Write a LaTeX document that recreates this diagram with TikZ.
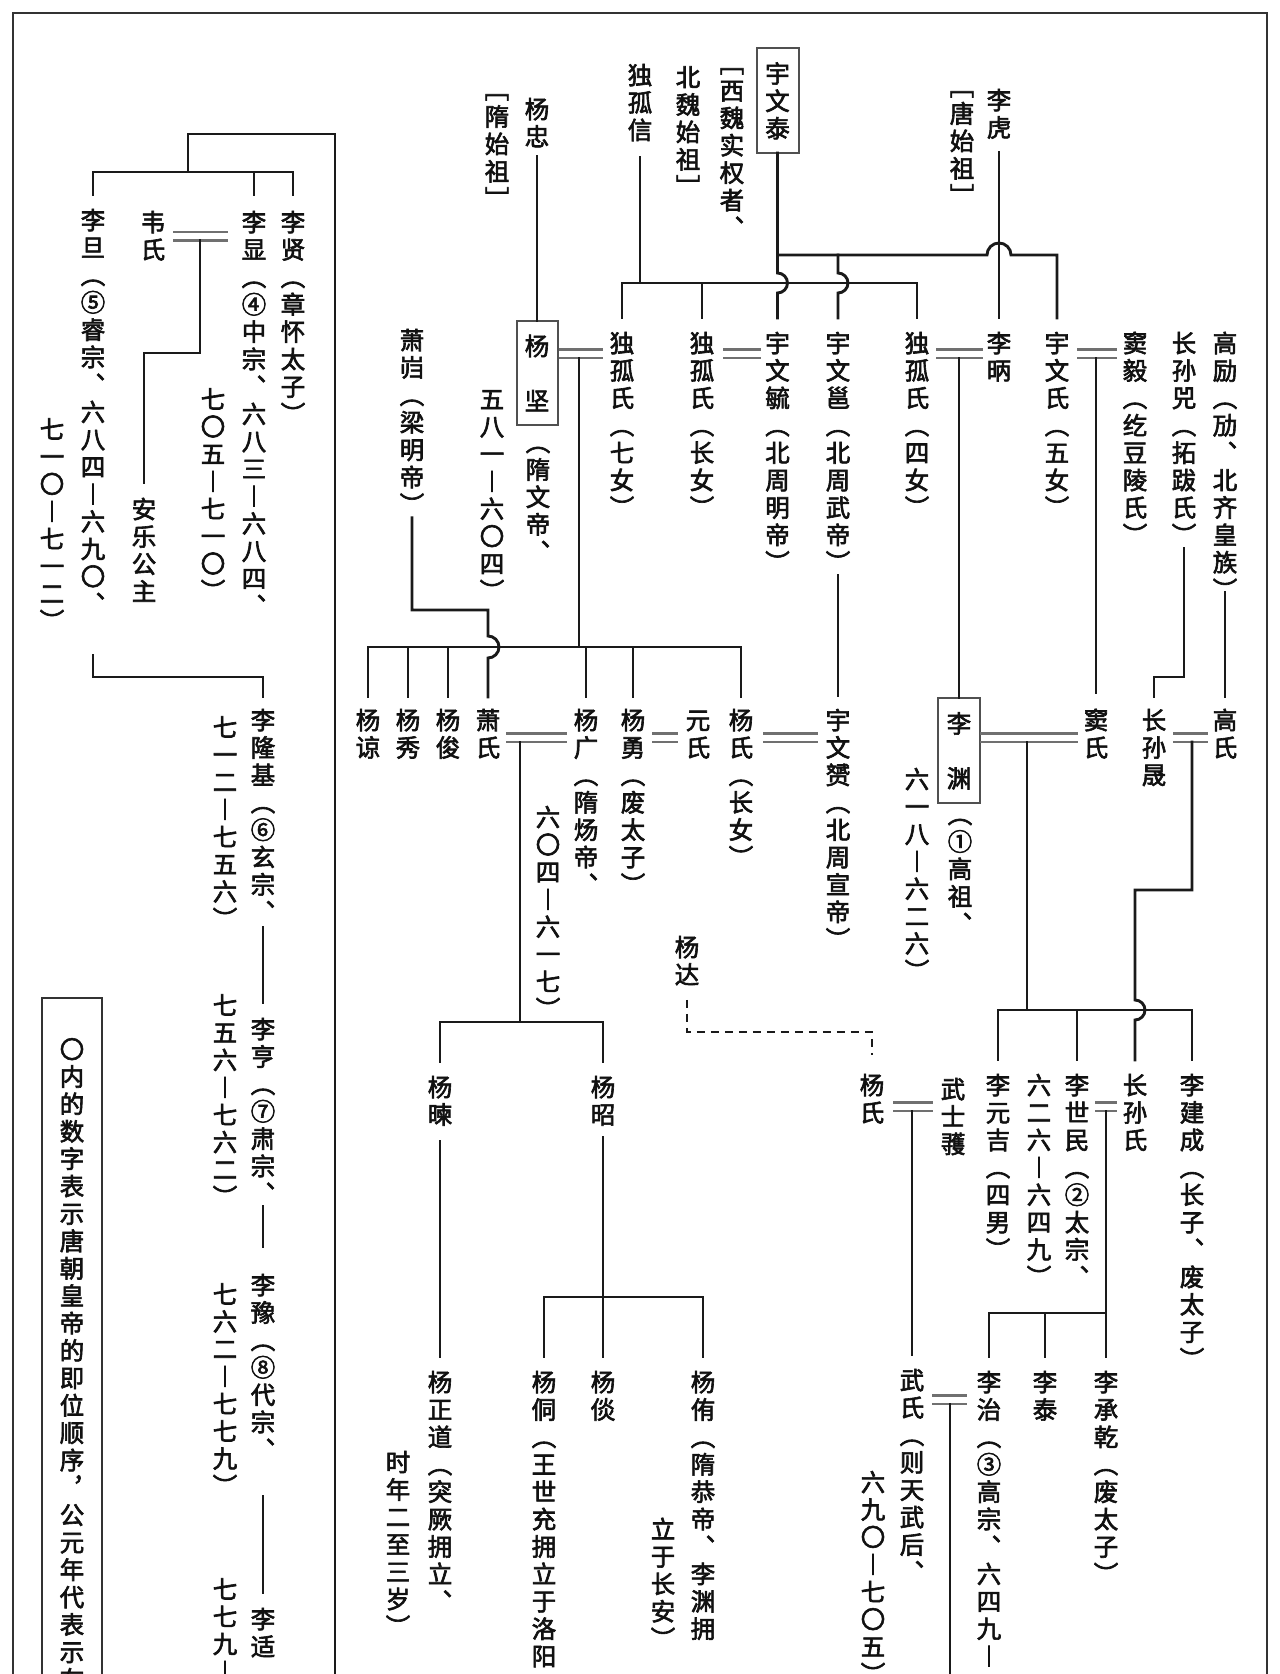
\documentclass[tikz,border=0pt]{standalone}
\usepackage{fontspec}
\setmainfont{Noto Sans CJK SC}[FakeBold=2.5]
\definecolor{linec}{HTML}{1A1A1A}
\definecolor{dblc}{HTML}{707070}
\definecolor{boxc}{HTML}{505050}
\definecolor{frmc}{HTML}{333333}
\definecolor{txtc}{HTML}{111111}
\def\vtstop{vtstop}
\def\vsp{}
\newcommand\vtcell[1]{\hbox to 30pt{\hss\vrule width 0pt height 23.4pt depth 4pt\relax#1\hss}}
\def\vtloop#1{\ifx\vtstop#1\else\vtcell{#1}\expandafter\vtloop\fi}
\newcommand\vt[1]{\vbox{\offinterlineskip\vtloop#1\vtstop}}
\newcommand\wed[5]{%
  \draw[dbl,shorten <=#4pt,shorten >=#5pt] (#1.east|-0,#3) -- (#2.west|-0,#3);
  \draw[dbl,shorten <=#4pt,shorten >=#5pt] (#1.east|-0,#3+8.5) -- (#2.west|-0,#3+8.5);}
\tikzset{
  ln/.style={draw=linec,line width=2.9pt,line cap=rect},
  dbl/.style={draw=dblc,line width=2.7pt},
  dsh/.style={draw=linec,line width=2.9pt,dash pattern=on 8pt off 6pt},
  vtx/.style={inner sep=0pt,outer sep=0pt,anchor=north,text=txtc,font=\fontsize{24.5pt}{27.4pt}\selectfont},
  bx/.style={draw=boxc,line width=2pt,inner sep=0pt,outer sep=0pt,minimum width=42pt,minimum height=105pt,text=txtc,font=\fontsize{24.5pt}{27.4pt}\selectfont},
  frm/.style={draw=frmc,line width=2.2pt},
}
\begin{document}
\begin{tikzpicture}[x=1pt,y=-1pt]
\useasboundingbox (0,0) rectangle (1280,1674);
\fill[white] (0,0) rectangle (1280,1674);
% frames
\draw[frm] (13,1700) -- (13,13) -- (1267,13) -- (1267,1700);
\draw[frm] (42,1700) -- (42,998) -- (102,998) -- (102,1700);
% ---------- left part ----------
\node[vtx] (ldan) at (93,206) {\vt{李旦︵⑤睿宗︑六八四︱六九〇︑}};
\node[vtx] (ldanb) at (52,415) {\vt{七一〇︱七一二︶}};
\node[vtx] (weishi) at (153,208) {\vt{韦氏}};
\node[vtx] (lxian) at (254,208) {\vt{李显︵④中宗︑六八三︱六八四︑}};
\node[vtx] (lxianb) at (213,385) {\vt{七〇五︱七一〇︶}};
\node[vtx] (lxianz) at (293,208) {\vt{李贤︵章怀太子︶}};
\node[vtx] (anle) at (144,495) {\vt{安乐公主}};
\node[vtx] (llj) at (263,706) {\vt{李隆基︵⑥玄宗︑}};
\node[vtx] (lljb) at (225,713) {\vt{七一二︱七五六︶}};
\node[vtx] (lheng) at (263,1015) {\vt{李亨︵⑦肃宗︑}};
\node[vtx] (lhengb) at (225,991) {\vt{七五六︱七六二︶}};
\node[vtx] (lyu) at (263,1271) {\vt{李豫︵⑧代宗︑}};
\node[vtx] (lyub) at (225,1280) {\vt{七六二︱七七九︶}};
\node[vtx] (lkuo) at (263,1605) {\vt{李适︵}};
\node[vtx] (lkuob) at (225,1575) {\vt{七七九︱}};
\node[vtx] (legend) at (72,1035) {\vt{〇内的数字表示唐朝皇帝的即位顺序︐公元年代表示在}};
% ---------- right part, top ----------
\node[vtx] (yzhong) at (537,95) {\vt{杨忠}};
\node[vtx] (suisz) at (497,75) {\vt{﹇隋始祖﹈}};
\node[vtx] (dugu) at (640,61) {\vt{独孤信}};
\node[bx] (ywt) at (777.5,100.5) {\vt{宇文泰}};
\node[vtx] (xiwei) at (732,49) {\vt{﹇西魏实权者︑}};
\node[vtx] (beiwei) at (688,63) {\vt{北魏始祖﹈}};
\node[vtx] (lihu) at (999,86) {\vt{李虎}};
\node[vtx] (tangsz) at (962,72) {\vt{﹇唐始祖﹈}};
% row 2
\node[bx,minimum width=41pt,minimum height=104pt] (yangjian) at (537,373) {\vt{杨\vsp 坚}};
\node[vtx] (suiwd) at (538,428) {\vt{︵隋文帝︑}};
\node[vtx] (yjdate) at (492,385) {\vt{五八一︱六〇四︶}};
\node[vtx] (dgs7) at (622,329) {\vt{独孤氏︵七女︶}};
\node[vtx] (dgs1) at (702,329) {\vt{独孤氏︵长女︶}};
\node[vtx] (ywyu) at (777.5,329) {\vt{宇文毓︵北周明帝︶}};
\node[vtx] (ywyong) at (838,329) {\vt{宇文邕︵北周武帝︶}};
\node[vtx] (dgs4) at (917,329) {\vt{独孤氏︵四女︶}};
\node[vtx] (libing) at (999,329) {\vt{李昞}};
\node[vtx] (ywshi) at (1057,329) {\vt{宇文氏︵五女︶}};
\node[vtx] (douyi) at (1135,329) {\vt{窦毅︵纥豆陵氏︶}};
\node[vtx] (zsx) at (1184,329) {\vt{长孙兕︵拓跋氏︶}};
\node[vtx] (gaoli) at (1225,329) {\vt{高励︵劢︑北齐皇族︶}};
\node[vtx] (xiaokui) at (412,326) {\vt{萧岿︵梁明帝︶}};
% row 3
\node[vtx] (yliang) at (368,706) {\vt{杨谅}};
\node[vtx] (yxiu) at (408,706) {\vt{杨秀}};
\node[vtx] (yjun) at (448,706) {\vt{杨俊}};
\node[vtx] (xiaoshi) at (488,706) {\vt{萧氏}};
\node[vtx] (yguang) at (586,706) {\vt{杨广︵隋炀帝︑}};
\node[vtx] (ygdate) at (548,803) {\vt{六〇四︱六一七︶}};
\node[vtx] (yyong) at (633,706) {\vt{杨勇︵废太子︶}};
\node[vtx] (yuanshi) at (698,706) {\vt{元氏}};
\node[vtx] (yshi1) at (741,706) {\vt{杨氏︵长女︶}};
\node[vtx] (ywyun) at (838,706) {\vt{宇文赟︵北周宣帝︶}};
\node[bx] (liyuan) at (959,750.5) {\vt{李\vsp 渊}};
\node[vtx] (gaozu) at (960,800) {\vt{︵①高祖︑}};
\node[vtx] (lydate) at (917,765) {\vt{六一八︱六二六︶}};
\node[vtx] (doushi) at (1096,706) {\vt{窦氏}};
\node[vtx] (zssheng) at (1154,706) {\vt{长孙晟}};
\node[vtx] (gaoshi) at (1225,706) {\vt{高氏}};
% row 4
\node[vtx] (yangda) at (687,933) {\vt{杨达}};
\node[vtx] (yshi2) at (872,1071) {\vt{杨氏}};
\node[vtx] (wsh) at (953,1075) {\vt{武士彟}};
\node[vtx] (lyj) at (998,1071) {\vt{李元吉︵四男︶}};
\node[vtx] (lsmdate) at (1039,1071) {\vt{六二六︱六四九︶}};
\node[vtx] (lsm) at (1077,1071) {\vt{李世民︵②太宗︑}};
\node[vtx] (zssshi) at (1135,1071) {\vt{长孙氏}};
\node[vtx] (ljc) at (1192,1071) {\vt{李建成︵长子︑废太子︶}};
\node[vtx] (yjian) at (440,1073) {\vt{杨暕}};
\node[vtx] (yzhao) at (603,1073) {\vt{杨昭}};
% row 5
\node[vtx] (yzd) at (440,1368) {\vt{杨正道︵突厥拥立︑}};
\node[vtx] (yzdb) at (398,1448) {\vt{时年二至三岁︶}};
\node[vtx] (ytong) at (544,1368) {\vt{杨侗︵王世充拥立于洛阳}};
\node[vtx] (ytan) at (603,1368) {\vt{杨倓}};
\node[vtx] (yyou) at (703,1368) {\vt{杨侑︵隋恭帝︑李渊拥}};
\node[vtx] (yyoub) at (663,1515) {\vt{立于长安︶}};
\node[vtx] (wushi) at (912,1366) {\vt{武氏︵则天武后︑}};
\node[vtx] (wsdate) at (873,1468) {\vt{六九〇︱七〇五︶}};
\node[vtx] (lizhi) at (989,1368) {\vt{李治︵③高宗︑六四九︱}};
\node[vtx] (litai) at (1045,1368) {\vt{李泰}};
\node[vtx] (lcq) at (1106,1368) {\vt{李承乾︵废太子︶}};
% ---------- connectors, left ----------
\coordinate (lbar) at (188,172);
\draw[ln] (ldan.north|-lbar) -- (lxianz.north|-lbar);
\draw[ln,shorten >=11pt] (ldan.north|-lbar) -- (ldan.north);
\draw[ln,shorten >=13pt] (lxian.north|-lbar) -- (lxian.north);
\draw[ln,shorten >=13pt] (lxianz.north|-lbar) -- (lxianz.north);
\draw[ln] (lbar) -- (188,134) -- (335,134) -- (335,1700);
\wed{weishi}{lxian}{232}{5}{11}
\draw[ln,shorten >=12pt] (200,240.5) -- (200,353) -- (anle.north|-0,353) -- (anle.north);
\draw[ln,shorten >=9pt] (ldan.south|-0,655) -- (93,677) -- (llj.north|-0,677) -- (llj.north);
\draw[ln,shorten <=2pt,shorten >=12pt] (llj.south) -- (lheng.north);
\draw[ln,shorten >=24pt] (lheng.south) -- (lyu.north);
\draw[ln,shorten <=34pt,shorten >=12pt] (lyu.south) -- (lkuo.north);
% ---------- connectors, right ----------
\draw[ln,shorten <=7pt] (yzhong.south) -- (yangjian.north);
\coordinate (dgbar) at (640,283);
\draw[ln,shorten <=14pt] (dugu.south) -- (dgbar);
\draw[ln] (dgs7.north|-dgbar) -- (dgs4.north|-dgbar);
\foreach \n in {dgs7,dgs1,dgs4} \draw[ln,shorten >=11pt] (\n.north|-dgbar) -- (\n.north);
\coordinate (ywbar) at (777.5,255);
\draw[ln,shorten >=11pt] (ywt.south) -- (777.5,273) arc[start angle=90,end angle=-90,radius=10pt] -- (ywyu.north);
\draw[ln,shorten >=11pt] (ywbar) -- (987,255) arc[start angle=180,end angle=0,radius=12pt] -- (ywshi.north|-ywbar) -- (ywshi.north);
\draw[ln,shorten >=11pt] (ywyong.north|-ywbar) -- (838,273) arc[start angle=90,end angle=-90,radius=10pt] -- (ywyong.north);
\draw[ln,shorten <=12pt,shorten >=11pt] (lihu.south) -- (libing.north);
\wed{yangjian}{dgs7}{349.5}{1}{4}
\wed{dgs1}{ywyu}{349.5}{6}{2}
\wed{dgs4}{libing}{349.5}{4}{1}
\wed{ywshi}{douyi}{349.5}{5}{3}
\coordinate (yjbar) at (579,647);
\draw[ln] (579,358) -- (yjbar);
\draw[ln] (959,358) -- (liyuan.north);
\draw[ln,shorten >=13pt] (1096,358) -- (doushi.north);
\draw[ln,shorten >=9pt] (xiaokui.south) -- (412,610) -- (488,610) -- (488,636) arc[start angle=90,end angle=-90,radius=11pt] -- (xiaoshi.north);
\draw[ln] (yliang.north|-yjbar) -- (yshi1.north|-yjbar);
\foreach \n in {yliang,yxiu,yjun,yguang,yyong,yshi1} \draw[ln,shorten >=9pt] (\n.north|-yjbar) -- (\n.north);
\draw[ln,shorten >=10pt] (ywyong.south) -- (ywyun.north);
\draw[ln,shorten >=9pt] (zsx.south) -- (1184,677) -- (zssheng.north|-0,677) -- (zssheng.north);
\draw[ln,shorten >=9pt] (gaoli.south|-0,592) -- (gaoshi.north);
\wed{xiaoshi}{yguang}{733.5}{3}{4}
\wed{yyong}{yuanshi}{733.5}{4}{5}
\wed{yshi1}{ywyun}{733.5}{7}{5}
\wed{liyuan}{doushi}{733.5}{0}{3}
\wed{zssheng}{gaoshi}{733.5}{4}{2}
\coordinate (yzbar) at (520,1022);
\draw[ln] (520,742) -- (yzbar);
\draw[ln] (yjian.north|-yzbar) -- (yzhao.north|-yzbar);
\foreach \n in {yjian,yzhao} \draw[ln,shorten >=11pt] (\n.north|-yzbar) -- (\n.north);
\coordinate (lybar) at (1027,1010);
\draw[ln] (1027,742) -- (lybar);
\draw[ln] (lyj.north|-lybar) -- (ljc.north|-lybar);
\foreach \n in {lyj,lsm,ljc} \draw[ln,shorten >=11pt] (\n.north|-lybar) -- (\n.north);
\draw[ln,shorten >=11pt] (1192,742) -- (1192,890) -- (1135,890) -- (1135,1000) arc[start angle=90,end angle=-90,radius=10pt] -- (zssshi.north);
\draw[dsh,shorten <=12pt,shorten >=16pt] (yangda.south) -- (687,1032) -- (yshi2.north|-0,1032) -- (yshi2.north);
\wed{yshi2}{wsh}{1102.5}{6}{5}
\wed{lsm}{zssshi}{1102.5}{3}{3}
\draw[ln,shorten >=11pt] (912,1111) -- (wushi.north);
\coordinate (lsbar) at (1106,1313);
\draw[ln] (1106,1111) -- (lsbar);
\draw[ln] (lizhi.north|-lsbar) -- (lcq.north|-lsbar);
\foreach \n in {lizhi,litai,lcq} \draw[ln,shorten >=11pt] (\n.north|-lsbar) -- (\n.north);
\wed{wushi}{lizhi}{1395.5}{5}{7}
\draw[ln] (950,1404) -- (950,1700);
\draw[ln,shorten <=14pt,shorten >=11pt] (yjian.south) -- (yzd.north);
\draw[ln,shorten <=10pt,shorten >=11pt] (yzhao.south) -- (ytan.north);
\coordinate (yzhbar) at (603,1297);
\draw[ln] (ytong.north|-yzhbar) -- (yyou.north|-yzhbar);
\foreach \n in {ytong,yyou} \draw[ln,shorten >=11pt] (\n.north|-yzhbar) -- (\n.north);
\end{tikzpicture}
\end{document}
